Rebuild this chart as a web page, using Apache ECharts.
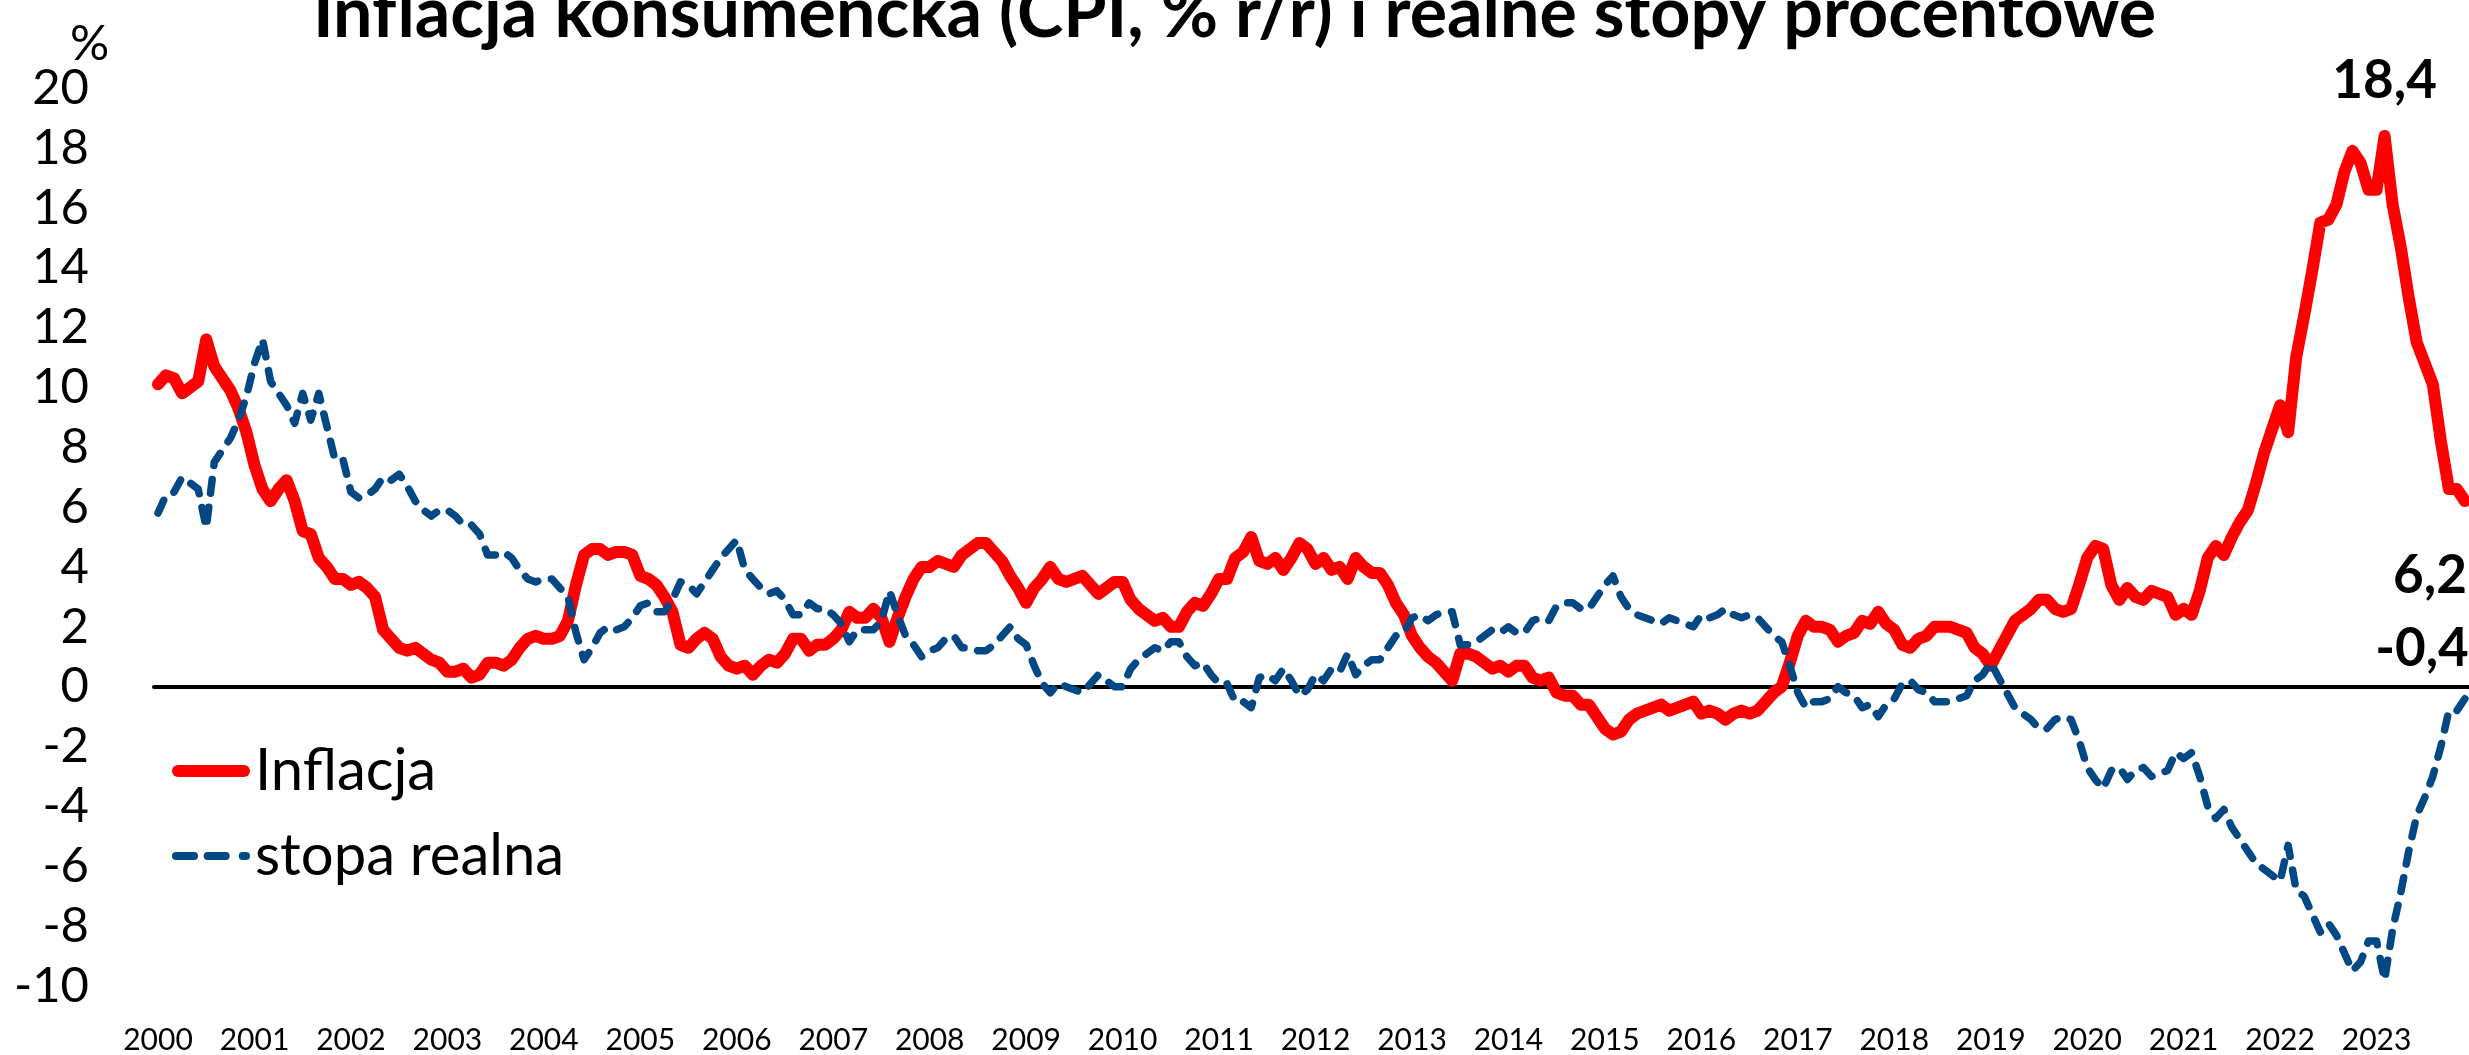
<!DOCTYPE html>
<html>
<head>
<meta charset="utf-8">
<script src="https://cdn.jsdelivr.net/npm/echarts@6/dist/echarts.min.js"></script>
<style>
html, body { margin: 0; padding: 0; background: #fff; }
#chart { width: 2469px; height: 1055px; }
</style>
</head>
<body>
<div id="chart"></div>
<script>
// lata i miesiace (dane miesieczne 2000-2023)
const years = ['2000', '2001', '2002', '2003', '2004', '2005', '2006', '2007', '2008', '2009', '2010', '2011',
    '2012', '2013', '2014', '2015', '2016', '2017', '2018', '2019', '2020', '2021', '2022', '2023'];
const months = ['01', '02', '03', '04', '05', '06', '07', '08', '09', '10', '11', '12'];
const categories = [];
years.forEach(y => months.forEach(m => categories.push(y + '-' + m)));

// inflacja CPI, % r/r
const inflacja = [
    10.1, 10.4, 10.3, 9.8, 10.0, 10.2, 11.6, 10.7, 10.3, 9.9, 9.3, 8.5,
    7.4, 6.6, 6.2, 6.6, 6.9, 6.2, 5.2, 5.1, 4.3, 4.0, 3.6, 3.6,
    3.4, 3.5, 3.3, 3.0, 1.9, 1.6, 1.3, 1.2, 1.3, 1.1, 0.9, 0.8,
    0.5, 0.5, 0.6, 0.3, 0.4, 0.8, 0.8, 0.7, 0.9, 1.3, 1.6, 1.7,
    1.6, 1.6, 1.7, 2.2, 3.4, 4.4, 4.6, 4.6, 4.4, 4.5, 4.5, 4.4,
    3.7, 3.6, 3.4, 3.0, 2.5, 1.4, 1.3, 1.6, 1.8, 1.6, 1.0, 0.7,
    0.6, 0.7, 0.4, 0.7, 0.9, 0.8, 1.1, 1.6, 1.6, 1.2, 1.4, 1.4,
    1.6, 1.9, 2.5, 2.3, 2.3, 2.6, 2.3, 1.5, 2.3, 3.0, 3.6, 4.0,
    4.0, 4.2, 4.1, 4.0, 4.4, 4.6, 4.8, 4.8, 4.5, 4.2, 3.7, 3.3,
    2.8, 3.3, 3.6, 4.0, 3.6, 3.5, 3.6, 3.7, 3.4, 3.1, 3.3, 3.5,
    3.5, 2.9, 2.6, 2.4, 2.2, 2.3, 2.0, 2.0, 2.5, 2.8, 2.7, 3.1,
    3.6, 3.6, 4.3, 4.5, 5.0, 4.2, 4.1, 4.3, 3.9, 4.3, 4.8, 4.6,
    4.1, 4.3, 3.9, 4.0, 3.6, 4.3, 4.0, 3.8, 3.8, 3.4, 2.8, 2.4,
    1.7, 1.3, 1.0, 0.8, 0.5, 0.2, 1.1, 1.1, 1.0, 0.8, 0.6, 0.7,
    0.5, 0.7, 0.7, 0.3, 0.2, 0.3, -0.2, -0.3, -0.3, -0.6, -0.6, -1.0,
    -1.4, -1.6, -1.5, -1.1, -0.9, -0.8, -0.7, -0.6, -0.8, -0.7, -0.6, -0.5,
    -0.9, -0.8, -0.9, -1.1, -0.9, -0.8, -0.9, -0.8, -0.5, -0.2, 0.0, 0.8,
    1.7, 2.2, 2.0, 2.0, 1.9, 1.5, 1.7, 1.8, 2.2, 2.1, 2.5, 2.1,
    1.9, 1.4, 1.3, 1.6, 1.7, 2.0, 2.0, 2.0, 1.9, 1.8, 1.3, 1.1,
    0.7, 1.2, 1.7, 2.2, 2.4, 2.6, 2.9, 2.9, 2.6, 2.5, 2.6, 3.4,
    4.3, 4.7, 4.6, 3.4, 2.9, 3.3, 3.0, 2.9, 3.2, 3.1, 3.0, 2.4,
    2.6, 2.4, 3.2, 4.3, 4.7, 4.4, 5.0, 5.5, 5.9, 6.8, 7.8, 8.6,
    9.4, 8.5, 11.0, 12.4, 13.9, 15.5, 15.6, 16.1, 17.2, 17.9, 17.5, 16.6,
    16.6, 18.4, 16.1, 14.7, 13.0, 11.5, 10.8, 10.1, 8.2, 6.6, 6.6, 6.2
];

// realna stopa procentowa, %
const stopaRealna = [
    5.8, 6.4, 6.5, 7.0, 6.8, 6.6, 5.3, 7.5, 7.9, 8.3, 8.9, 9.7,
    10.8, 11.6, 10.2, 9.8, 9.4, 8.8, 9.8, 8.9, 9.8, 8.7, 7.6, 7.6,
    6.5, 6.3, 6.4, 6.6, 7.0, 6.9, 7.1, 6.7, 6.2, 5.9, 5.7, 5.9,
    5.9, 5.7, 5.4, 5.4, 5.1, 4.4, 4.4, 4.5, 4.3, 3.9, 3.6, 3.5,
    3.6, 3.6, 3.3, 3.0, 1.8, 0.9, 1.3, 1.8, 2.0, 1.9, 2.0, 2.3,
    2.7, 2.8, 2.5, 2.5, 2.9, 3.5, 3.4, 3.1, 3.5, 3.9, 4.3, 4.6,
    4.9, 3.9, 3.6, 3.3, 3.1, 3.2, 2.9, 2.4, 2.4, 2.8, 2.6, 2.6,
    2.4, 2.1, 1.5, 1.9, 1.9, 1.9, 2.2, 3.2, 2.4, 1.7, 1.4, 1.0,
    1.2, 1.3, 1.6, 1.7, 1.3, 1.3, 1.2, 1.2, 1.4, 1.7, 2.0, 1.6,
    1.4, 0.7, 0.1, -0.2, 0.1, 0.0, -0.1, -0.2, 0.1, 0.4, 0.2, 0.0,
    0.0, 0.6, 0.9, 1.1, 1.3, 1.2, 1.5, 1.5, 1.0, 0.7, 0.8, 0.4,
    0.1, 0.1, -0.5, -0.5, -0.7, 0.3, 0.4, 0.2, 0.6, 0.2, -0.3, -0.1,
    0.4, 0.2, 0.6, 0.5, 1.1, 0.4, 0.7, 0.9, 0.9, 1.3, 1.7, 1.8,
    2.3, 2.4, 2.2, 2.4, 2.5, 2.5, 1.4, 1.4, 1.5, 1.7, 1.9, 1.8,
    2.0, 1.8, 1.8, 2.2, 2.3, 2.2, 2.7, 2.8, 2.8, 2.6, 2.6, 3.0,
    3.4, 3.7, 3.0, 2.6, 2.4, 2.3, 2.2, 2.1, 2.3, 2.2, 2.1, 2.0,
    2.4, 2.3, 2.4, 2.6, 2.4, 2.3, 2.4, 2.3, 2.0, 1.7, 1.5, 0.7,
    -0.2, -0.7, -0.5, -0.5, -0.4, 0.0, -0.2, -0.3, -0.7, -0.6, -1.0, -0.6,
    -0.4, 0.1, 0.2, -0.1, -0.2, -0.5, -0.5, -0.5, -0.4, -0.3, 0.2, 0.4,
    0.8, 0.3, -0.2, -0.7, -0.9, -1.1, -1.4, -1.4, -1.1, -1.0, -1.1, -1.8,
    -2.7, -3.1, -3.4, -2.8, -2.7, -3.1, -2.8, -2.7, -3.0, -2.9, -2.8, -2.2,
    -2.4, -2.2, -3.0, -4.0, -4.4, -4.1, -4.7, -5.1, -5.5, -5.9, -6.1, -6.3,
    -6.5, -5.3, -6.8, -7.0, -7.6, -8.2, -7.9, -8.3, -8.9, -9.5, -9.2, -8.5,
    -8.5, -9.8, -8.1, -6.9, -5.5, -4.3, -3.7, -3.0, -2.0, -0.8, -0.8, -0.4
];

// os Y
const yMin = -10;
const yMax = 20;
const yStep = 2;

const czerwony = '#ff0000';
const niebieski = '#024884';
const fontTekst = 'Lato, "Open Sans", sans-serif';

const fmt = v => v.toFixed(1).replace('.', ',');
const ostatni = categories.length - 1;
const szczyt = inflacja.indexOf(Math.max(...inflacja));

const etykieta = {
    show: true,
    fontFamily: fontTekst,
    fontWeight: 'bold',
    fontSize: 53,
    color: '#000',
    formatter: p => fmt(p.value)
};

// ikony legendy: gruba linia z zaokraglonymi koncami i linia przerywana
const ikonaLinia = 'path://M6,0h66a6,6 0 0 1 0,12h-66a6,6 0 0 1 0,-12z';
const ikonaKreski = 'path://M3,0h16a3,3 0 0 1 0,7h-16a3,3 0 0 1 0,-7z'
    + 'M31,0h16a3,3 0 0 1 0,7h-16a3,3 0 0 1 0,-7z'
    + 'M62,0h3a3,3 0 0 1 0,7h-3a3,3 0 0 1 0,-7z';

const chart = echarts.init(document.getElementById('chart'));
chart.setOption({
    animation: false,
    backgroundColor: '#fff',
    title: {
        text: 'Inflacja konsumencka (CPI, % r/r) i realne stopy procentowe',
        left: 'center',
        top: -21,
        padding: 0,
        textStyle: { fontFamily: fontTekst, fontWeight: 'bold', fontSize: 70, color: '#000' }
    },
    graphic: [{
        type: 'text',
        left: 70,
        top: 20,
        style: { text: '%', font: '49px Lato', fill: '#000' }
    }],
    legend: {
        orient: 'vertical',
        left: 172,
        top: 742,
        padding: 0,
        itemGap: 27,
        itemWidth: 78,
        itemHeight: 12,
        textStyle: { fontFamily: fontTekst, fontSize: 58, color: '#000' },
        data: [
            { name: 'Inflacja', icon: ikonaLinia },
            { name: 'stopa realna', icon: ikonaKreski }
        ]
    },
    grid: { left: 154, top: 88, width: 2319.6, height: 900 },
    xAxis: [{
        type: 'category',
        data: categories,
        boundaryGap: true,
        axisLine: { onZero: true, lineStyle: { color: '#000', width: 4 } },
        axisTick: { interval: i => i % 12 === 0, length: 13, lineStyle: { color: '#000', width: 4 } },
        axisLabel: { show: false },
        splitLine: { show: false }
    }, {
        type: 'category',
        data: categories,
        position: 'bottom',
        boundaryGap: true,
        axisLine: { show: false, onZero: false },
        axisTick: { show: false },
        axisLabel: {
            interval: i => i % 12 === 0,
            formatter: v => v.slice(0, 4),
            fontFamily: fontTekst,
            fontSize: 30,
            color: '#000',
            margin: 39
        },
        splitLine: { show: false }
    }],
    yAxis: {
        type: 'value',
        min: yMin,
        max: yMax,
        interval: yStep,
        axisLine: { show: false },
        axisTick: { show: false },
        splitLine: { show: false },
        axisLabel: { fontFamily: fontTekst, fontSize: 49, color: '#000', margin: 65 }
    },
    series: [{
        name: 'Inflacja',
        type: 'line',
        data: inflacja,
        symbol: 'none',
        color: czerwony,
        lineStyle: { color: czerwony, width: 12, cap: 'round', join: 'round' },
        markPoint: {
            symbol: 'circle',
            symbolSize: 1,
            itemStyle: { color: 'rgba(0,0,0,0)' },
            data: [
                { coord: [szczyt, inflacja[szczyt]], value: inflacja[szczyt],
                  label: Object.assign({}, etykieta, { position: 'top', distance: 28 }) },
                { coord: [ostatni, inflacja[ostatni]], value: inflacja[ostatni],
                  label: Object.assign({}, etykieta, { position: 'bottom', distance: 48, offset: [-35, 0] }) }
            ]
        }
    }, {
        name: 'stopa realna',
        type: 'line',
        data: stopaRealna,
        symbol: 'none',
        color: niebieski,
        lineStyle: { color: niebieski, width: 7.5, type: [14, 14], cap: 'round', join: 'round' },
        markPoint: {
            symbol: 'circle',
            symbolSize: 1,
            itemStyle: { color: 'rgba(0,0,0,0)' },
            data: [
                { coord: [ostatni, stopaRealna[ostatni]], value: stopaRealna[ostatni],
                  label: Object.assign({}, etykieta, { position: 'top', distance: 23, offset: [-43, 0] }) }
            ]
        }
    }]
});
</script>
</body>
</html>
